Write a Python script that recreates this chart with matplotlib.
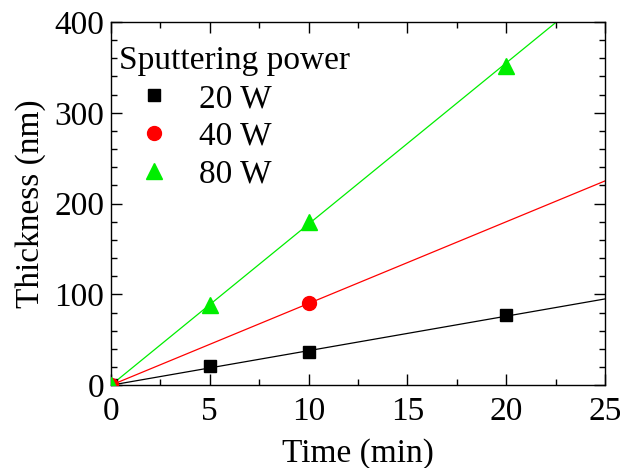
import numpy as np
import matplotlib
matplotlib.use("Agg")
import matplotlib.pyplot as plt
from matplotlib.ticker import MultipleLocator

plt.rcParams['font.family'] = ['Liberation Serif', 'DejaVu Serif']

# data
labels = ['20 W', '40 W', '80 W']
times = [[0, 5, 10, 20], [0, 10], [0, 5, 10, 20]]
thickness = [[0, 21, 36, 77], [0, 90], [0, 88, 180, 351]]
slopes = [3.8, 9.0, 17.75]  # linear fits through origin (nm/min)
colors = ['black', 'red', '#00ee00']
markers = ['s', 'o', '^']
msizes = [9, 10, 11]

fs = 24

fig = plt.figure(figsize=(6.2, 4.68), dpi=100)
ax = fig.add_axes([0.179, 0.177, 0.797, 0.776])

xfit = np.array([0, 25])
for t, th, k, c, m, ms, lab in zip(times, thickness, slopes, colors, markers, msizes, labels):
    ax.plot(xfit, k * xfit, color=c, lw=0.9, zorder=2)
    ax.plot(t, th, linestyle='none', marker=m, color=c, markersize=ms,
            label=lab, zorder=3)

ax.set_xlim(0, 25)
ax.set_ylim(0, 400)
ax.xaxis.set_major_locator(MultipleLocator(5))
ax.xaxis.set_minor_locator(MultipleLocator(2.5))
ax.yaxis.set_major_locator(MultipleLocator(100))
ax.yaxis.set_minor_locator(MultipleLocator(20))
ax.tick_params(which='both', direction='in', top=True, right=True, labelsize=fs, width=1)
ax.tick_params(which='major', length=8, pad=5)
ax.tick_params(which='minor', length=4.5)
ax.tick_params(axis='x', which='major', pad=8)
for s in ax.spines.values():
    s.set_linewidth(1)

ax.set_xlabel('Time (min)', fontsize=fs, labelpad=8)
ax.set_ylabel('Thickness (nm)', fontsize=fs, labelpad=6)

leg = ax.legend(title='Sputtering power', loc='upper left', frameon=False,
                fontsize=fs, title_fontsize=fs, handletextpad=0.3,
                borderaxespad=0.0, borderpad=0.3, labelspacing=0.22,
                handlelength=2.1, bbox_to_anchor=(-0.005, 0.962))
leg._legend_box.align = 'left'

fig.savefig('out.png', dpi=100)
